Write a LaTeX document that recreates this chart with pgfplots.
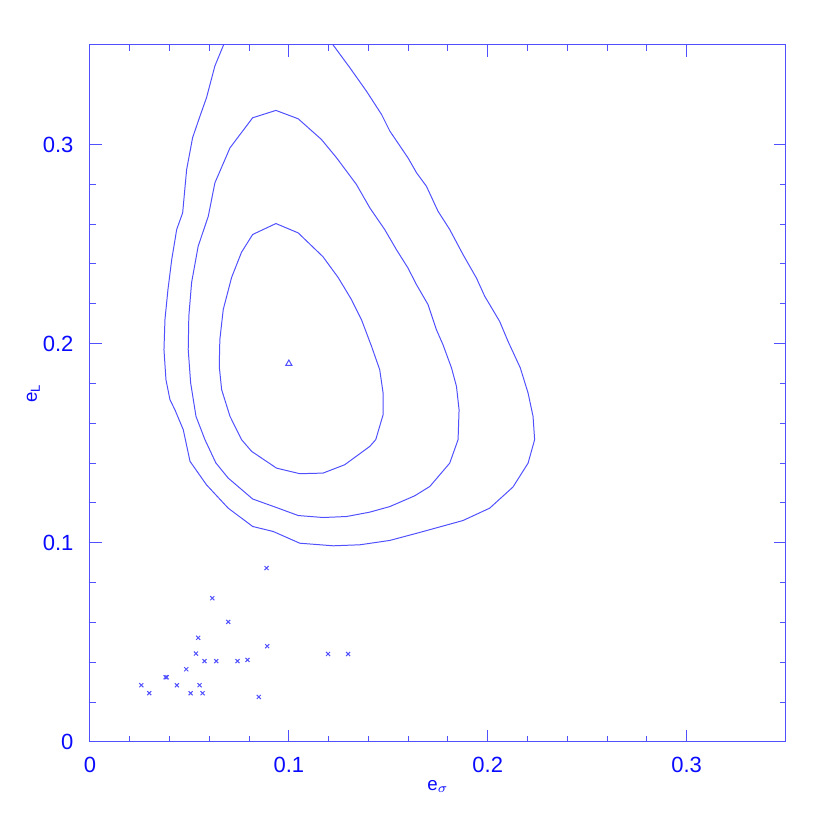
\documentclass[border=0pt]{standalone}
\usepackage{fontspec}
\setmainfont{Liberation Sans}
\usepackage{pgfplots}
\pgfplotsset{compat=1.18}
\usetikzlibrary{calc}
\definecolor{lineblue}{RGB}{80,80,255}
\definecolor{textblue}{RGB}{10,10,255}
\begin{document}
\begin{tikzpicture}
\begin{axis}[
  name=main,
  scale only axis,
  width=316.3pt, height=316.8pt,
  xmin=0, xmax=0.35, ymin=0, ymax=0.35,
  xtick={0,0.1,0.2,0.3}, ytick={0,0.1,0.2,0.3},
  minor tick num=4,
  tick align=inside,
  xtick pos=both, ytick pos=both,
  major tick length=5.5pt, minor tick length=2.7pt,
  axis line style={lineblue, line width=0.45pt},
  every tick/.style={lineblue, line width=0.45pt},
  tick label style={font=\fontsize{10}{12}\selectfont, text=textblue},
  /pgf/number format/assume math mode=true,
  /pgf/number format/fixed,
  xticklabel style={yshift=-3.5pt},
  yticklabel style={xshift=-4pt},
  xlabel={\fontsize{8.5}{9}\selectfont e$_{\sigma}$},
  ylabel={\fontsize{8.5}{9}\selectfont e$_{\mathrm{L}}$},
  label style={text=textblue},
  xlabel style={yshift=3.4pt},
  ylabel style={yshift=-5.5pt},
  clip=true,
]
% outer contour
\addplot[lineblue, line width=0.45pt, mark=none] coordinates {
(0.0673,0.3503) (0.0628,0.3394) (0.0586,0.3235) (0.0553,0.3142) (0.0516,0.3034)
(0.0486,0.2874) (0.0466,0.2657) (0.0436,0.2573) (0.0411,0.2422) (0.0392,0.2271)
(0.0377,0.2121) (0.0372,0.1970) (0.0382,0.1819) (0.0402,0.1719) (0.0427,0.1668)
(0.0469,0.1568) (0.0503,0.1409) (0.0586,0.1291) (0.0695,0.1174) (0.0818,0.1082)
(0.0921,0.1057) (0.1055,0.0998) (0.1223,0.0985) (0.1357,0.0990) (0.1508,0.1012)
(0.1658,0.1052) (0.1876,0.1112) (0.2010,0.1174) (0.2127,0.1280) (0.2203,0.1400)
(0.2236,0.1518) (0.2228,0.1635) (0.2203,0.1752) (0.2164,0.1878) (0.2102,0.2012)
(0.2060,0.2112) (0.1985,0.2238) (0.1943,0.2330) (0.1876,0.2447) (0.1809,0.2573)
(0.1750,0.2665) (0.1692,0.2790) (0.1642,0.2858) (0.1599,0.2933) (0.1508,0.3067)
(0.1466,0.3151) (0.1390,0.3268) (0.1307,0.3385) (0.1220,0.3503)
};
% middle contour
\addplot[lineblue, line width=0.45pt, mark=none] coordinates {
(0.0935,0.3171) (0.1047,0.3129) (0.1164,0.3025) (0.1240,0.2933) (0.1340,0.2799)
(0.1407,0.2682) (0.1482,0.2573) (0.1541,0.2472) (0.1599,0.2380) (0.1642,0.2296)
(0.1700,0.2196) (0.1742,0.2070) (0.1775,0.1995) (0.1818,0.1878) (0.1843,0.1785)
(0.1856,0.1668) (0.1851,0.1518) (0.1809,0.1400) (0.1709,0.1283) (0.1633,0.1236)
(0.1508,0.1182) (0.1407,0.1154) (0.1290,0.1132) (0.1172,0.1127) (0.1047,0.1137)
(0.0938,0.1177) (0.0818,0.1220) (0.0695,0.1325) (0.0633,0.1401) (0.0578,0.1518)
(0.0533,0.1635) (0.0506,0.1804) (0.0494,0.1970) (0.0497,0.2137) (0.0511,0.2307)
(0.0544,0.2489) (0.0595,0.2640) (0.0628,0.2807) (0.0704,0.2983) (0.0818,0.3134)
(0.0935,0.3171)
};
% inner contour
\addplot[lineblue, line width=0.45pt, mark=none] coordinates {
(0.0935,0.2603) (0.1047,0.2556) (0.1171,0.2437) (0.1248,0.2332) (0.1315,0.2221)
(0.1365,0.2121) (0.1416,0.1986) (0.1457,0.1869) (0.1474,0.1752) (0.1474,0.1643)
(0.1437,0.1518) (0.1407,0.1484) (0.1281,0.1392) (0.1172,0.1350) (0.1055,0.1347)
(0.0938,0.1375) (0.0813,0.1459) (0.0762,0.1518) (0.0704,0.1635) (0.0662,0.1769)
(0.0650,0.1886) (0.0653,0.2020) (0.0670,0.2171) (0.0712,0.2332) (0.0762,0.2459)
(0.0818,0.2548) (0.0935,0.2603)
};
% best fit
\addplot[lineblue, only marks, mark=triangle, mark size=1.6pt, mark options={line width=0.45pt}] coordinates {(0.1000,0.1900)};
% data points
\addplot[lineblue, only marks, mark=x, mark size=1.3pt, mark options={line width=0.45pt}] coordinates {
(0.0258,0.0285) (0.0298,0.0245) (0.0380,0.0325) (0.0386,0.0325) (0.0437,0.0285)
(0.0484,0.0365) (0.0506,0.0245) (0.0544,0.0523) (0.0533,0.0444) (0.0551,0.0285)
(0.0566,0.0245) (0.0615,0.0722) (0.0576,0.0406) (0.0635,0.0406) (0.0695,0.0603)
(0.0742,0.0406) (0.0792,0.0412) (0.0849,0.0226) (0.0888,0.0873) (0.0891,0.0481)
(0.1197,0.0442) (0.1298,0.0442)
};
\end{axis}
\path (main.south west) ++(-40.9pt,-40.0pt) rectangle ($(main.south west)+(336.3pt,337.2pt)$);
\end{tikzpicture}
\end{document}
